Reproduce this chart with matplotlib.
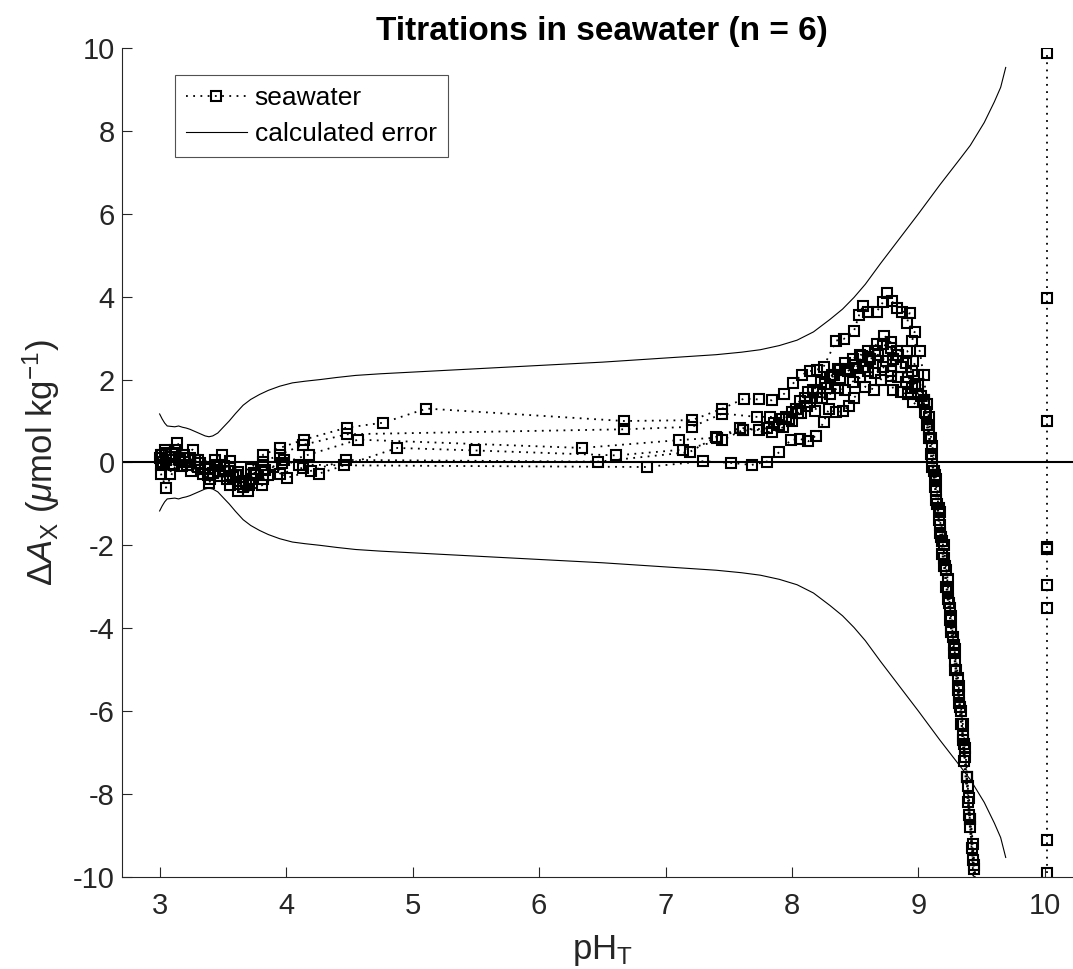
import matplotlib
matplotlib.use("Agg")
import matplotlib.pyplot as plt
from matplotlib.lines import Line2D

plt.rcParams["font.family"] = ["Liberation Sans", "DejaVu Sans"]
plt.rcParams["mathtext.fontset"] = "custom"
plt.rcParams["mathtext.rm"] = "Liberation Sans"
plt.rcParams["mathtext.it"] = "Liberation Sans:italic"
plt.rcParams["axes.unicode_minus"] = False

# calculated error envelope (+/-)
err_ph = [3.00, 3.02, 3.04, 3.06, 3.09, 3.12, 3.15, 3.18, 3.21, 3.24, 3.27, 3.30, 3.33, 3.36,
          3.39, 3.42, 3.46, 3.50, 3.55, 3.60, 3.66, 3.72, 3.79, 3.86, 3.95, 4.05, 4.15, 4.27,
          4.40, 4.55, 4.75, 5.00, 5.25, 5.50, 5.75, 6.00, 6.25, 6.50, 6.75, 7.00, 7.20, 7.40,
          7.60, 7.75, 7.90, 8.04, 8.17, 8.30, 8.40, 8.49, 8.58, 8.70, 8.85, 9.00, 9.17, 9.33,
          9.41, 9.52, 9.60, 9.65, 9.69]
err_up = [1.17, 1.05, 0.95, 0.88, 0.87, 0.86, 0.88, 0.85, 0.83, 0.80, 0.76, 0.72, 0.68, 0.64,
          0.62, 0.64, 0.71, 0.84, 1.00, 1.18, 1.38, 1.52, 1.64, 1.74, 1.84, 1.92, 1.96, 2.00,
          2.05, 2.10, 2.14, 2.18, 2.22, 2.26, 2.30, 2.34, 2.38, 2.42, 2.47, 2.52, 2.56, 2.60,
          2.66, 2.72, 2.82, 2.95, 3.15, 3.45, 3.70, 3.98, 4.30, 4.80, 5.40, 6.00, 6.70, 7.33,
          7.65, 8.20, 8.70, 9.05, 9.53]

# six seawater titrations
ph_1 = [3.01, 3.05, 3.14, 3.19, 3.26, 3.32, 3.44, 3.49, 3.56, 3.62, 3.72, 3.82, 3.95, 4.14,
        4.48, 4.77, 5.11, 6.67, 7.21, 7.45, 7.62, 7.74, 7.84, 7.94, 8.01, 8.08, 8.14, 8.20,
        8.25, 8.35, 8.41, 8.49, 8.53, 8.56, 8.60, 8.67, 8.72, 8.75, 8.79, 8.83, 8.87, 8.93,
        8.91, 8.97, 8.95, 9.01, 9.04, 9.07, 9.10, 9.13, 9.16, 9.19, 9.22, 9.25, 9.28, 9.31,
        9.34, 9.37, 9.39, 9.41, 9.44]
dA_1 = [0.19, 0.23, 0.48, 0.19, 0.31, -0.01, 0.07, 0.17, 0.03, -0.23, -0.15, 0.19, 0.35, 0.55,
        0.84, 0.96, 1.30, 1.00, 1.02, 1.30, 1.54, 1.52, 1.50, 1.66, 1.91, 2.12, 2.20, 2.24,
        2.31, 2.94, 2.98, 3.17, 3.55, 3.77, 3.64, 3.64, 3.87, 4.08, 3.89, 3.73, 3.64, 3.61,
        3.37, 3.15, 2.94, 2.69, 2.1, 1.4, 0.6, -0.3, -1.1, -1.9, -2.6, -3.5, -4.4, -5.2,
        -6.0, -6.9, -7.8, -8.8, -10.3]

ph_2 = [3.02, 3.05, 3.12, 3.18, 3.28, 3.36, 3.40, 3.51, 3.56, 3.63, 3.72, 3.82, 3.95, 4.13,
        4.48, 6.67, 7.21, 7.45, 7.72, 7.83, 7.92, 8.00, 8.06, 8.13, 8.20, 8.28, 8.33, 8.38,
        8.43, 8.51, 8.55, 8.60, 8.67, 8.73, 8.78, 8.83, 8.91, 8.96, 9.00, 9.04, 9.08, 9.11,
        9.14, 9.17, 9.20, 9.23, 9.26, 9.29, 9.32, 9.35, 9.38, 9.40, 9.43, 9.45]
dA_2 = [0.19, 0.07, 0.31, -0.09, 0.07, -0.15, -0.13, -0.09, -0.13, -0.51, -0.39, 0.01, 0.19, 0.42,
        0.68, 0.80, 0.86, 1.18, 1.10, 1.10, 1.05, 1.21, 1.48, 1.70, 1.56, 1.80, 2.12, 2.24,
        2.26, 2.28, 2.56, 2.69, 2.85, 3.06, 2.90, 2.69, 2.69, 2.45, 2.10, 1.5, 0.8, 0.1,
        -0.7, -1.5, -2.3, -3.1, -4.0, -4.8, -5.6, -6.6, -7.6, -8.5, -9.6, -10.4]

ph_3 = [3.01, 3.08, 3.11, 3.22, 3.34, 3.40, 3.48, 3.56, 3.62, 3.71, 3.83, 3.97, 4.18, 4.57,
        6.34, 7.11, 7.41, 7.59, 7.74, 7.86, 7.95, 8.03, 8.10, 8.17, 8.23, 8.30, 8.36, 8.42,
        8.48, 8.54, 8.60, 8.66, 8.72, 8.78, 8.84, 8.90, 8.95, 9.00, 9.04, 9.07, 9.10, 9.13,
        9.16, 9.19, 9.22, 9.25, 9.28, 9.31, 9.34, 9.36, 9.39, 9.42, 9.45]
dA_3 = [-0.05, -0.27, -0.05, -0.05, -0.29, -0.41, -0.33, -0.33, -0.69, -0.55, -0.17, -0.02, 0.19, 0.55,
        0.35, 0.54, 0.60, 0.84, 0.78, 0.95, 1.10, 1.30, 1.55, 1.75, 1.95, 2.05, 2.25, 2.40,
        2.50, 2.60, 2.55, 2.70, 2.85, 2.75, 2.60, 2.40, 2.20, 1.90, 1.50, 0.90, 0.2, -0.6,
        -1.4, -2.2, -3.0, -3.8, -4.6, -5.5, -6.3, -7.2, -8.2, -9.3, -10.4]

ph_4 = [3.01, 3.05, 3.15, 3.25, 3.39, 3.47, 3.56, 3.66, 3.70, 3.81, 3.95, 4.13, 4.26, 4.88,
        5.49, 6.61, 7.14, 7.45, 7.61, 7.84, 7.93, 8.00, 8.07, 8.14, 8.20, 8.26, 8.32, 8.38,
        8.44, 8.50, 8.56, 8.62, 8.68, 8.74, 8.80, 8.86, 8.92, 8.97, 9.02, 9.06, 9.09, 9.12,
        9.15, 9.18, 9.21, 9.24, 9.27, 9.30, 9.33, 9.36, 9.38, 9.41, 9.44, 9.46]
dA_4 = [-0.27, -0.61, 0.10, -0.20, -0.49, -0.20, -0.55, -0.45, -0.69, -0.55, -0.27, -0.13, -0.27, 0.35,
        0.29, 0.17, 0.31, 0.54, 0.78, 0.73, 0.85, 1.00, 1.20, 1.45, 1.70, 1.90, 2.10, 2.00,
        2.20, 2.35, 2.30, 2.50, 2.60, 2.45, 2.50, 2.30, 2.05, 1.85, 1.60, 1.20, 0.6, -0.2,
        -1.0, -1.8, -2.5, -3.4, -4.2, -5.0, -5.9, -6.8, -7.6, -8.6, -9.8, -10.5]

ph_5 = [3.03, 3.09, 3.16, 3.24, 3.30, 3.42, 3.53, 3.60, 3.68, 3.76, 3.82, 3.90, 4.01, 4.20,
        4.47, 6.47, 7.19, 7.40, 7.61, 7.80, 7.90, 7.98, 8.05, 8.12, 8.18, 8.24, 8.30, 8.36,
        8.42, 8.48, 8.54, 8.60, 8.66, 8.72, 8.78, 8.84, 8.90, 8.95, 9.00, 9.04, 9.08, 9.11,
        9.14, 9.17, 9.20, 9.23, 9.26, 9.29, 9.32, 9.35, 9.37, 9.40, 9.43, 9.46]
dA_5 = [0.00, 0.12, 0.05, 0.10, -0.10, -0.25, -0.40, -0.30, -0.50, -0.30, -0.39, -0.10, -0.37, -0.20,
        0.06, 0.02, 0.25, 0.62, 0.78, 0.82, 0.90, 1.05, 1.20, 1.35, 1.25, 1.55, 1.65, 1.80,
        1.75, 1.95, 2.05, 2.20, 2.15, 2.30, 2.20, 2.05, 1.95, 1.80, 1.65, 1.45, 1.10, 0.4,
        -0.4, -1.2, -2.0, -2.8, -3.7, -4.5, -5.4, -6.3, -7.1, -8.1, -9.2, -10.5]

ph_6 = [3.00, 3.04, 3.10, 3.20, 3.30, 3.38, 3.45, 3.52, 3.58, 3.66, 3.75, 3.86, 3.98, 4.10,
        4.46, 6.85, 7.30, 7.52, 7.68, 7.80, 7.90, 7.99, 8.06, 8.13, 8.19, 8.25, 8.29, 8.35,
        8.40, 8.45, 8.49, 8.58, 8.65, 8.70, 8.78, 8.80, 8.86, 8.92, 8.96, 9.05, 9.08, 9.11,
        9.14, 9.17, 9.20, 9.23, 9.26, 9.29, 9.32, 9.35, 9.38, 9.41, 9.44, 9.46]
dA_6 = [0.10, 0.30, 0.20, 0.00, 0.05, -0.30, -0.05, -0.20, -0.35, -0.60, -0.25, -0.30, 0.05, -0.05,
        -0.07, -0.11, 0.03, -0.01, -0.06, 0.02, 0.25, 0.54, 0.57, 0.51, 0.65, 0.97, 1.28, 1.21,
        1.24, 1.36, 1.56, 1.83, 1.76, 2.00, 2.08, 1.76, 1.70, 1.64, 1.45, 1.21, 0.6, -0.1,
        -0.9, -1.7, -2.5, -3.3, -4.1, -5.0, -5.8, -6.7, -7.6, -8.6, -9.7, -10.4]

# last points of the titrations, all near pH 10
ph_end = [10.02, 10.02, 10.02, 10.02, 10.02, 10.02, 10.02, 10.02, 10.02]
dA_end = [-9.9, -9.1, -3.5, -2.95, -2.1, -2.05, 1.0, 3.97, 9.87]

series = [(ph_1, dA_1), (ph_2, dA_2), (ph_3, dA_3), (ph_4, dA_4), (ph_5, dA_5),
          (ph_6, dA_6), (ph_end, dA_end)]

fig = plt.figure(figsize=(10.73, 9.69), dpi=100)
ax = fig.add_axes([0.1134, 0.095, 0.8958, 0.8555])

dot_style = dict(color="black", linestyle=(0, (1.0, 3.0)), linewidth=1.3,
                 marker="s", markersize=7, markerfacecolor="none",
                 markeredgecolor="black", markeredgewidth=1.5)
for ph, dA in series:
    ax.plot(ph, dA, **dot_style)

ax.axhline(0, color="black", linewidth=1.5)
ax.plot(err_ph, err_up, color="black", linewidth=0.8)
ax.plot(err_ph, [-v for v in err_up], color="black", linewidth=0.8)

ax.set_xlim(2.7, 10.3)
ax.set_ylim(-10, 10)
ax.set_xticks([3, 4, 5, 6, 7, 8, 9, 10])
ax.set_yticks(range(-10, 11, 2))
for side in ["top", "right"]:
    ax.spines[side].set_visible(False)
for side in ["left", "bottom"]:
    ax.spines[side].set_color("#262626")
    ax.spines[side].set_linewidth(0.8)
ax.tick_params(direction="in", length=7, width=0.8, colors="#262626", labelsize=21)
ax.tick_params(axis="x", pad=11)
ax.tick_params(axis="y", pad=5)

ax.set_title("Titrations in seawater (n = 6)", fontsize=24, fontweight="bold", pad=6)
ax.set_xlabel("pH$_\\mathrm{T}$", fontsize=25, color="#262626", labelpad=9)
ax.set_ylabel("$\\Delta\\mathit{A}_\\mathrm{X}$ ($\\mathit{\\mu}$mol kg$^{-1}$)",
              fontsize=25, color="#262626", labelpad=8)

handles = [Line2D([], [], **dot_style),
           Line2D([], [], color="black", linewidth=0.8)]
leg = ax.legend(handles, ["seawater", "calculated error"], loc="upper left",
                bbox_to_anchor=(0.0555, 0.967), fontsize=19, frameon=True,
                fancybox=False, edgecolor="#262626", handlelength=2.3,
                handletextpad=0.3, borderpad=0.42, labelspacing=0.45,
                numpoints=1, borderaxespad=0)
leg.get_frame().set_linewidth(0.8)

fig.savefig("out.png", dpi=100)
